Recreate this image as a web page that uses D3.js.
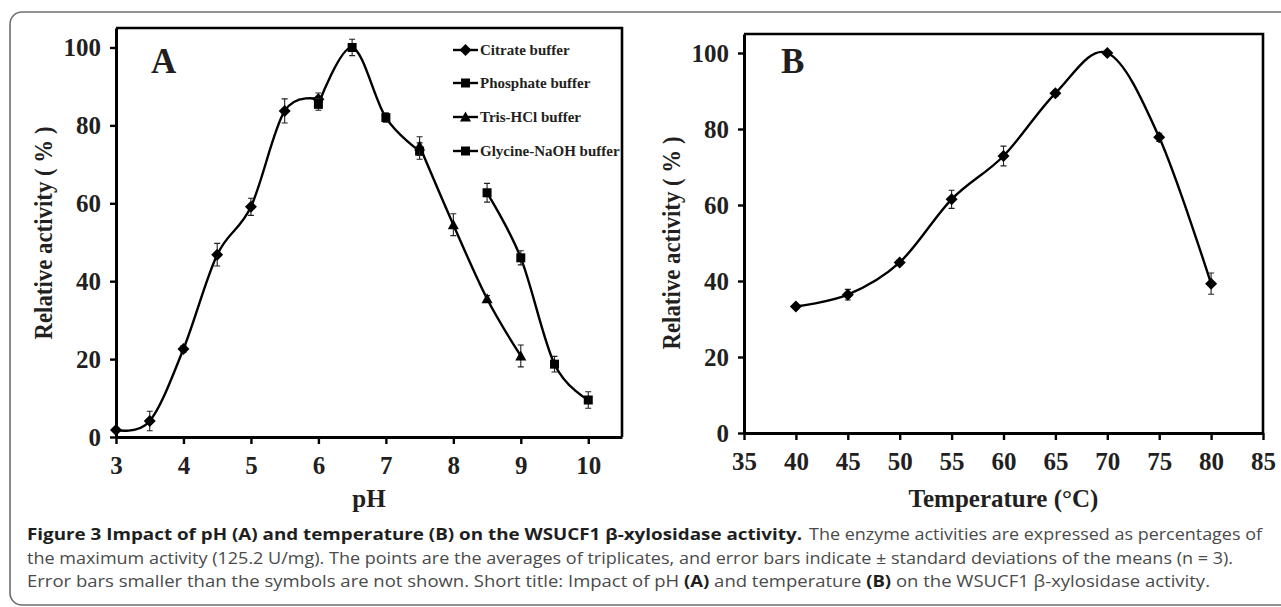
<!DOCTYPE html>
<html>
<head>
<meta charset="utf-8">
<script src="https://cdn.jsdelivr.net/npm/d3@7"></script>
<style>
  html, body { margin: 0; padding: 0; background: #fff; }
  svg { display: block; }
  .tick text { font-family: "Liberation Serif", "Times New Roman", serif; font-weight: bold; font-size: 25px; fill: #231f20; }
</style>
</head>
<body>
<svg id="chart" width="1281" height="607"></svg>
<script>
// ---- data ----
// panel A: pH series
const citratePH = [3, 3.5, 4, 4.5, 5, 5.5, 6];
const citrateAct = [1.8, 4.1, 22.6, 46.8, 59.1, 83.7, 86.7];
const citrateErr = [0, 2.5, 0.8, 2.9, 2.2, 3.1, 1.6];

const phosphatePH = [6, 6.5, 7, 7.5];
const phosphateAct = [85.4, 100, 82, 73.4];
const phosphateErr = [1.5, 2.1, 1.2, 2.1];

const trisPH = [7.5, 8, 8.5, 9];
const trisAct = [74.7, 54.5, 35.5, 20.8];
const trisErr = [2.4, 2.8, 0.8, 2.8];

const glycinePH = [8.5, 9, 9.5, 10];
const glycineAct = [62.7, 46, 18.7, 9.5];
const glycineErr = [2.4, 1.8, 2, 2.1];

// panel B: temperature series
const tempC = [40, 45, 50, 55, 60, 65, 70, 75, 80];
const tempAct = [33.3, 36.4, 44.9, 61.5, 72.9, 89.4, 100, 77.8, 39.3];
const tempErr = [0.6, 1.4, 0.6, 2.4, 2.6, 0.8, 0.5, 1.1, 2.8];

const phTicks = [3, 4, 5, 6, 7, 8, 9, 10];
const tempTicks = [35, 40, 45, 50, 55, 60, 65, 70, 75, 80, 85];
const actTicks = [0, 20, 40, 60, 80, 100];

const legendNames = ["Citrate buffer", "Phosphate buffer", "Tris-HCl buffer", "Glycine-NaOH buffer"];

const svg = d3.select("#chart");

// outer rounded frame of the figure
svg.append("rect")
    .attr("x", 10).attr("y", 12)
    .attr("width", 1290).attr("height", 593)
    .attr("rx", 12)
    .attr("fill", "none")
    .attr("stroke", "#6d6d6d")
    .attr("stroke-width", 1.6);

// marker shapes
function markerPath(kind) {
    if (kind === "diamond") return "M0,-6L6,0L0,6L-6,0Z";
    if (kind === "square") return "M-4.5,-4.5H4.5V4.5H-4.5Z";
    return "M0,-5.5L5.5,4.5H-5.5Z"; // triangle
}

const serif = "'Liberation Serif', 'Times New Roman', serif";

function drawPanel(opt) {
    const g = svg.append("g");
    const x = d3.scaleLinear().domain(opt.xDomain).range([opt.left, opt.right]);
    const y = d3.scaleLinear().domain([0, 105]).range([opt.bottom, opt.top]);

    // top and right border
    g.append("path")
        .attr("d", `M${opt.left},${opt.top}H${opt.right}V${opt.bottom}`)
        .attr("fill", "none")
        .attr("stroke", "#000")
        .attr("stroke-width", 2.6);

    const xAxis = g.append("g")
        .attr("transform", `translate(0,${opt.bottom})`)
        .call(d3.axisBottom(x).tickValues(opt.xTicks).tickSize(7).tickSizeOuter(0).tickPadding(12).tickFormat(d3.format("d")));
    const yAxis = g.append("g")
        .attr("transform", `translate(${opt.left},0)`)
        .call(d3.axisLeft(y).tickValues(actTicks).tickSize(6).tickSizeOuter(0).tickPadding(9).tickFormat(d3.format("d")));

    [xAxis, yAxis].forEach(a => {
        a.select(".domain").attr("stroke", "#000").attr("stroke-width", 3);
        a.selectAll(".tick line").attr("stroke", "#000").attr("stroke-width", 2.4);
    });
    yAxis.selectAll(".tick text").attr("dy", "0.34em");

    // axis titles
    g.append("text")
        .attr("x", (opt.left + opt.right) / 2)
        .attr("y", 507)
        .attr("text-anchor", "middle")
        .attr("font-family", serif)
        .attr("font-weight", "bold")
        .attr("font-size", 25)
        .attr("fill", "#231f20")
        .text(opt.xTitle);

    g.append("text")
        .attr("transform", `translate(${opt.yTitleX},${opt.yTitleMid}) rotate(-90)`)
        .attr("text-anchor", "middle")
        .attr("font-family", serif)
        .attr("font-weight", "bold")
        .attr("font-size", 25)
        .attr("fill", "#231f20")
        .attr("textLength", 213)
        .attr("lengthAdjust", "spacingAndGlyphs")
        .text("Relative activity ( % )");

    // panel letter
    g.append("text")
        .attr("x", opt.letterX)
        .attr("y", 73)
        .attr("font-family", serif)
        .attr("font-weight", "bold")
        .attr("font-size", 35)
        .attr("fill", "#231f20")
        .text(opt.letter);

    const line = d3.line()
        .x(d => x(d[0]))
        .y(d => y(d[1]))
        .curve(d3.curveCardinal.tension(0));

    opt.series.forEach(s => {
        const pts = s.xs.map((v, i) => [v, s.ys[i], s.err[i]]);

        g.append("path")
            .datum(pts)
            .attr("d", line)
            .attr("fill", "none")
            .attr("stroke", "#000")
            .attr("stroke-width", 2.4);

        // error bars
        const eb = g.append("g").attr("stroke", "#231f20").attr("stroke-width", 1.1);
        pts.filter(d => d[2] > 0).forEach(d => {
            const cx = x(d[0]), y1 = y(d[1] + d[2]), y2 = y(d[1] - d[2]);
            eb.append("path")
                .attr("d", `M${cx},${y1}V${y2}M${cx - 3},${y1}H${cx + 3}M${cx - 3},${y2}H${cx + 3}`)
                .attr("fill", "none");
        });

        g.append("g").selectAll("path")
            .data(pts)
            .join("path")
            .attr("transform", d => `translate(${x(d[0])},${y(d[1])})`)
            .attr("d", markerPath(s.marker))
            .attr("fill", "#000");
    });
}

drawPanel({
    left: 116, right: 622, top: 28, bottom: 437,
    xDomain: [3, 10.5], xTicks: phTicks, xTitle: "pH",
    yTitleX: 52, yTitleMid: 233,
    letter: "A", letterX: 151,
    series: [
        { xs: citratePH, ys: citrateAct, err: citrateErr, marker: "diamond" },
        { xs: phosphatePH, ys: phosphateAct, err: phosphateErr, marker: "square" },
        { xs: trisPH, ys: trisAct, err: trisErr, marker: "triangle" },
        { xs: glycinePH, ys: glycineAct, err: glycineErr, marker: "square" }
    ]
});

drawPanel({
    left: 744, right: 1263, top: 34, bottom: 433,
    xDomain: [35, 85], xTicks: tempTicks, xTitle: "Temperature (°C)",
    yTitleX: 680, yTitleMid: 243,
    letter: "B", letterX: 781,
    series: [
        { xs: tempC, ys: tempAct, err: tempErr, marker: "diamond" }
    ]
});

// legend for panel A
const legendMarkers = ["diamond", "square", "triangle", "square"];
const legendRowY = [50, 83, 117, 151];
const lg = svg.append("g");
legendNames.forEach((name, i) => {
    const ly = legendRowY[i];
    lg.append("line")
        .attr("x1", 453).attr("x2", 478)
        .attr("y1", ly).attr("y2", ly)
        .attr("stroke", "#000").attr("stroke-width", 2.4);
    lg.append("path")
        .attr("transform", `translate(465.5,${ly})`)
        .attr("d", markerPath(legendMarkers[i]))
        .attr("fill", "#000");
    lg.append("text")
        .attr("x", 480)
        .attr("y", ly + 5)
        .attr("font-family", serif)
        .attr("font-weight", "bold")
        .attr("font-size", 15)
        .attr("fill", "#231f20")
        .text(name);
});

// caption: each piece gets its own start and width
const captionPieces = [
    { x: 27, y: 540, w: 775, b: true, t: "Figure 3 Impact of pH (A) and temperature (B) on the WSUCF1 β-xylosidase activity." },
    { x: 809, y: 540, w: 453, b: false, t: "The enzyme activities are expressed as percentages of" },
    { x: 27, y: 563.5, w: 1206, b: false, t: "the maximum activity (125.2 U/mg). The points are the averages of triplicates, and error bars indicate ± standard deviations of the means (n = 3)." },
    { x: 27, y: 587, w: 1183, b: false, parts: [
        { t: "Error bars smaller than the symbols are not shown. Short title: Impact of pH ", b: false },
        { t: "(A)", b: true },
        { t: " and temperature ", b: false },
        { t: "(B)", b: true },
        { t: " on the WSUCF1 β-xylosidase activity.", b: false }] }
];

captionPieces.forEach(p => {
    const t = svg.append("text")
        .attr("x", p.x)
        .attr("y", p.y)
        .attr("font-family", "'Open Sans', 'Noto Sans', sans-serif")
        .attr("font-size", 16)
        .attr("textLength", p.w)
        .attr("lengthAdjust", "spacingAndGlyphs")
        .attr("xml:space", "preserve");
    const parts = p.parts || [{ t: p.t, b: p.b }];
    parts.forEach(q => {
        t.append("tspan")
            .attr("font-weight", q.b ? "bold" : "normal")
            .attr("fill", q.b ? "#1e1e1e" : "#4a4a4a")
            .text(q.t);
    });
});
</script>
</body>
</html>
